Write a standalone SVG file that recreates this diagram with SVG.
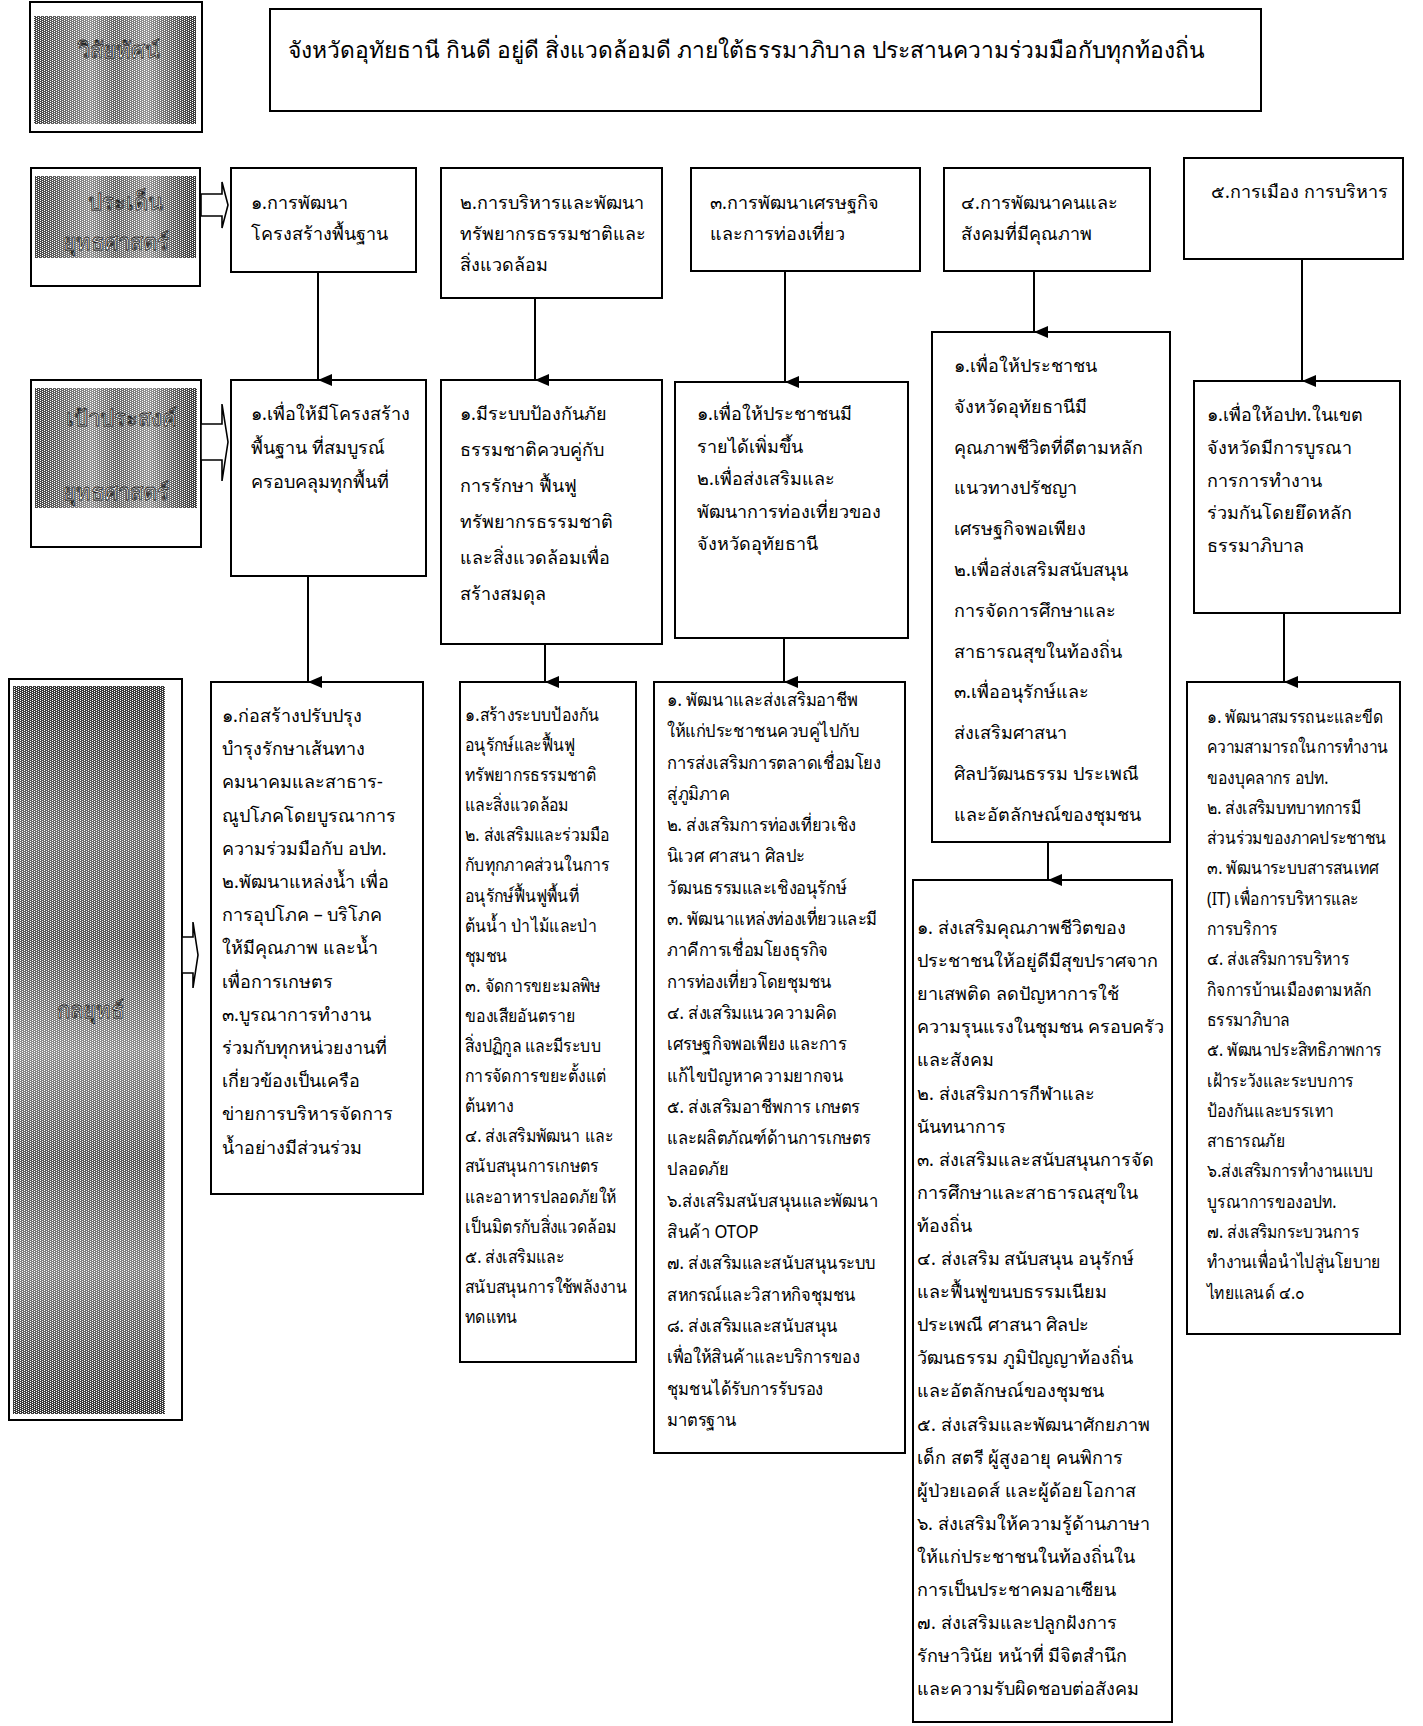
<svg xmlns="http://www.w3.org/2000/svg" width="1423" height="1726" viewBox="0 0 1423 1726">
<style>
.box{fill:#fff;stroke:#000;stroke-width:2}
.t{font-family:'Noto Sans','DejaVu Sans',sans-serif;font-size:18px;fill:#000}
.big{font-size:22.8px}
.lbl{font-family:'Noto Sans','DejaVu Sans',sans-serif;font-size:22px;fill:#fff;stroke:#222;stroke-width:0.8;text-anchor:middle}
.ln{stroke:#000;stroke-width:2;fill:none}
.br{fill:#fff;stroke:#000;stroke-width:1.6}
</style>
<defs>
<marker id="ah" viewBox="0 0 12 14" refX="6" refY="14" markerWidth="12" markerHeight="14" markerUnits="userSpaceOnUse" orient="auto-start-reverse">
<path d="M0,0 L12,0 L6,14 Z" fill="#000"/>
</marker>
<pattern id="dots" width="4" height="2" patternUnits="userSpaceOnUse">
<rect width="4" height="2" fill="#000" fill-opacity="0.35"/>
<rect x="0" y="0" width="1" height="1" fill="#fff"/>
<rect x="2" y="1" width="1" height="1" fill="#fff"/>
</pattern>
<linearGradient id="gh" x1="0" y1="0" x2="1" y2="0">
<stop offset="0" stop-color="#666"/>
<stop offset="0.2" stop-color="#aaa"/>
<stop offset="0.35" stop-color="#ddd"/>
<stop offset="0.5" stop-color="#999"/>
<stop offset="0.7" stop-color="#e4e4e4"/>
<stop offset="0.85" stop-color="#999"/>
<stop offset="1" stop-color="#555"/>
</linearGradient>
<linearGradient id="gv" x1="0" y1="0" x2="0" y2="1">
<stop offset="0" stop-color="#555"/>
<stop offset="0.2" stop-color="#aaa"/>
<stop offset="0.35" stop-color="#888"/>
<stop offset="0.5" stop-color="#ddd"/>
<stop offset="0.65" stop-color="#888"/>
<stop offset="0.8" stop-color="#ccc"/>
<stop offset="1" stop-color="#555"/>
</linearGradient>
</defs>

<!-- Row 1 -->
<g id="label-vision">
<rect class="box" x="30" y="2" width="172" height="130"/>
<rect x="34" y="16" width="162" height="108" fill="url(#gh)"/>
<rect x="34" y="16" width="162" height="108" fill="url(#dots)"/>
<text class="lbl" x="119" y="58">วิสัยทัศน์</text>
</g>
<g id="vision">
<rect class="box" x="270" y="9" width="991" height="102"/>
<text class="t big" x="288" y="58">จังหวัดอุทัยธานี กินดี อยู่ดี สิ่งแวดล้อมดี ภายใต้ธรรมาภิบาล ประสานความร่วมมือกับทุกท้องถิ่น</text>
</g>

<!-- Row 2 -->
<g id="label-issues">
<rect class="box" x="31" y="168" width="169" height="118"/>
<rect x="35" y="176" width="161" height="82" fill="url(#gh)"/>
<rect x="35" y="176" width="161" height="82" fill="url(#dots)"/>
<text class="lbl" x="125" y="210">ประเด็น</text>
<text class="lbl" x="116" y="250">ยุทธศาสตร์</text>
</g>
<g id="issue-1">
<rect class="box" x="231" y="168" width="185" height="104"/>
<text class="t" x="251" y="209">๑.การพัฒนา<tspan x="251" dy="31">โครงสร้างพื้นฐาน</tspan></text>
</g>
<g id="issue-2">
<rect class="box" x="441" y="168" width="221" height="130"/>
<text class="t" x="460" y="209">๒.การบริหารและพัฒนา<tspan x="460" dy="31">ทรัพยากรธรรมชาติและ</tspan><tspan x="460" dy="31">สิ่งแวดล้อม</tspan></text>
</g>
<g id="issue-3">
<rect class="box" x="691" y="168" width="229" height="103"/>
<text class="t" x="710" y="209">๓.การพัฒนาเศรษฐกิจ<tspan x="710" dy="31">และการท่องเที่ยว</tspan></text>
</g>
<g id="issue-4">
<rect class="box" x="944" y="168" width="206" height="103"/>
<text class="t" x="961" y="209">๔.การพัฒนาคนและ<tspan x="961" dy="31">สังคมที่มีคุณภาพ</tspan></text>
</g>
<g id="issue-5">
<rect class="box" x="1184" y="158" width="219" height="101"/>
<text class="t" x="1211" y="198">๕.การเมือง การบริหาร</text>
</g>

<!-- Row 3 -->
<g id="label-goals">
<rect class="box" x="31" y="380" width="170" height="167"/>
<rect x="35" y="388" width="162" height="120" fill="url(#gh)"/>
<rect x="35" y="388" width="162" height="120" fill="url(#dots)"/>
<text class="lbl" x="121" y="426">เป้าประสงค์</text>
<text class="lbl" x="116" y="500">ยุทธศาสตร์</text>
</g>
<g id="goal-1">
<rect class="box" x="231" y="380" width="195" height="196"/>
<text class="t" x="251" y="420">๑.เพื่อให้มีโครงสร้าง<tspan x="251" dy="34">พื้นฐาน ที่สมบูรณ์</tspan><tspan x="251" dy="34">ครอบคลุมทุกพื้นที่</tspan></text>
</g>
<g id="goal-2">
<rect class="box" x="441" y="380" width="221" height="264"/>
<text class="t" x="460" y="420">๑.มีระบบป้องกันภัย<tspan x="460" dy="36">ธรรมชาติควบคู่กับ</tspan><tspan x="460" dy="36">การรักษา ฟื้นฟู</tspan><tspan x="460" dy="36">ทรัพยากรธรรมชาติ</tspan><tspan x="460" dy="36">และสิ่งแวดล้อมเพื่อ</tspan><tspan x="460" dy="36">สร้างสมดุล</tspan></text>
</g>
<g id="goal-3">
<rect class="box" x="675" y="382" width="233" height="256"/>
<text class="t" x="697" y="420">๑.เพื่อให้ประชาชนมี<tspan x="697" dy="32.5">รายได้เพิ่มขึ้น</tspan><tspan x="697" dy="32.5">๒.เพื่อส่งเสริมและ</tspan><tspan x="697" dy="32.5">พัฒนาการท่องเที่ยวของ</tspan><tspan x="697" dy="32.5">จังหวัดอุทัยธานี</tspan></text>
</g>
<g id="goal-4">
<rect class="box" x="932" y="332" width="238" height="510"/>
<text class="t" x="954" y="372">๑.เพื่อให้ประชาชน<tspan x="954" dy="40.8">จังหวัดอุทัยธานีมี</tspan><tspan x="954" dy="40.8">คุณภาพชีวิตที่ดีตามหลัก</tspan><tspan x="954" dy="40.8">แนวทางปรัชญา</tspan><tspan x="954" dy="40.8">เศรษฐกิจพอเพียง</tspan><tspan x="954" dy="40.8">๒.เพื่อส่งเสริมสนับสนุน</tspan><tspan x="954" dy="40.8">การจัดการศึกษาและ</tspan><tspan x="954" dy="40.8">สาธารณสุขในท้องถิ่น</tspan><tspan x="954" dy="40.8">๓.เพื่ออนุรักษ์และ</tspan><tspan x="954" dy="40.8">ส่งเสริมศาสนา</tspan><tspan x="954" dy="40.8">ศิลปวัฒนธรรม ประเพณี</tspan><tspan x="954" dy="40.8">และอัตลักษณ์ของชุมชน</tspan></text>
</g>
<g id="goal-5">
<rect class="box" x="1194" y="381" width="206" height="232"/>
<text class="t" x="1207" y="421">๑.เพื่อให้อปท.ในเขต<tspan x="1207" dy="32.8">จังหวัดมีการบูรณา</tspan><tspan x="1207" dy="32.8">การการทำงาน</tspan><tspan x="1207" dy="32.8">ร่วมกันโดยยึดหลัก</tspan><tspan x="1207" dy="32.8">ธรรมาภิบาล</tspan></text>
</g>

<!-- Row 4 -->
<g id="label-strategies">
<rect class="box" x="9" y="679" width="173" height="741"/>
<rect x="13" y="686" width="152" height="728" fill="url(#gv)"/>
<rect x="13" y="686" width="152" height="728" fill="url(#dots)"/>
<text class="lbl" x="90" y="1018">กลยุทธ์</text>
</g>
<g id="strategy-1">
<rect class="box" x="211" y="682" width="212" height="512"/>
<text class="t" x="222" y="722">๑.ก่อสร้างปรับปรุง<tspan x="222" dy="33.2">บำรุงรักษาเส้นทาง</tspan><tspan x="222" dy="33.2">คมนาคมและสาธาร-</tspan><tspan x="222" dy="33.2">ณูปโภคโดยบูรณาการ</tspan><tspan x="222" dy="33.2">ความร่วมมือกับ อปท.</tspan><tspan x="222" dy="33.2">๒.พัฒนาแหล่งน้ำ เพื่อ</tspan><tspan x="222" dy="33.2">การอุปโภค – บริโภค</tspan><tspan x="222" dy="33.2">ให้มีคุณภาพ และน้ำ</tspan><tspan x="222" dy="33.2">เพื่อการเกษตร</tspan><tspan x="222" dy="33.2">๓.บูรณาการทำงาน</tspan><tspan x="222" dy="33.2">ร่วมกับทุกหน่วยงานที่</tspan><tspan x="222" dy="33.2">เกี่ยวข้องเป็นเครือ</tspan><tspan x="222" dy="33.2">ข่ายการบริหารจัดการ</tspan><tspan x="222" dy="33.2">น้ำอย่างมีส่วนร่วม</tspan></text>
</g>
<g id="strategy-2">
<rect class="box" x="460" y="682" width="176" height="680"/>
<text class="t" x="465" y="721" transform="matrix(0.88,0,0,1,55.8,0)">๑.สร้างระบบป้องกัน<tspan x="465" dy="30.1">อนุรักษ์และฟื้นฟู</tspan><tspan x="465" dy="30.1">ทรัพยากรธรรมชาติ</tspan><tspan x="465" dy="30.1">และสิ่งแวดล้อม</tspan><tspan x="465" dy="30.1">๒. ส่งเสริมและร่วมมือ</tspan><tspan x="465" dy="30.1">กับทุกภาคส่วนในการ</tspan><tspan x="465" dy="30.1">อนุรักษ์ฟื้นฟูพื้นที่</tspan><tspan x="465" dy="30.1">ต้นน้ำ ป่าไม้และป่า</tspan><tspan x="465" dy="30.1">ชุมชน</tspan><tspan x="465" dy="30.1">๓. จัดการขยะมลพิษ</tspan><tspan x="465" dy="30.1">ของเสียอันตราย</tspan><tspan x="465" dy="30.1">สิ่งปฏิกูล และมีระบบ</tspan><tspan x="465" dy="30.1">การจัดการขยะตั้งแต่</tspan><tspan x="465" dy="30.1">ต้นทาง</tspan><tspan x="465" dy="30.1">๔. ส่งเสริมพัฒนา และ</tspan><tspan x="465" dy="30.1">สนับสนุนการเกษตร</tspan><tspan x="465" dy="30.1">และอาหารปลอดภัยให้</tspan><tspan x="465" dy="30.1">เป็นมิตรกับสิ่งแวดล้อม</tspan><tspan x="465" dy="30.1">๕. ส่งเสริมและ</tspan><tspan x="465" dy="30.1">สนับสนุนการใช้พลังงาน</tspan><tspan x="465" dy="30.1">ทดแทน</tspan></text>
</g>
<g id="strategy-3">
<rect class="box" x="654" y="682" width="251" height="771"/>
<text class="t" x="667" y="706" transform="matrix(0.92,0,0,1,53.36,0)">๑. พัฒนาและส่งเสริมอาชีพ<tspan x="667" dy="31.3">ให้แก่ประชาชนควบคู่ไปกับ</tspan><tspan x="667" dy="31.3">การส่งเสริมการตลาดเชื่อมโยง</tspan><tspan x="667" dy="31.3">สู่ภูมิภาค</tspan><tspan x="667" dy="31.3">๒. ส่งเสริมการท่องเที่ยวเชิง</tspan><tspan x="667" dy="31.3">นิเวศ ศาสนา ศิลปะ</tspan><tspan x="667" dy="31.3">วัฒนธรรมและเชิงอนุรักษ์</tspan><tspan x="667" dy="31.3">๓. พัฒนาแหล่งท่องเที่ยวและมี</tspan><tspan x="667" dy="31.3">ภาคีการเชื่อมโยงธุรกิจ</tspan><tspan x="667" dy="31.3">การท่องเที่ยวโดยชุมชน</tspan><tspan x="667" dy="31.3">๔. ส่งเสริมแนวความคิด</tspan><tspan x="667" dy="31.3">เศรษฐกิจพอเพียง และการ</tspan><tspan x="667" dy="31.3">แก้ไขปัญหาความยากจน</tspan><tspan x="667" dy="31.3">๕. ส่งเสริมอาชีพการ เกษตร</tspan><tspan x="667" dy="31.3">และผลิตภัณฑ์ด้านการเกษตร</tspan><tspan x="667" dy="31.3">ปลอดภัย</tspan><tspan x="667" dy="31.3">๖.ส่งเสริมสนับสนุนและพัฒนา</tspan><tspan x="667" dy="31.3">สินค้า OTOP</tspan><tspan x="667" dy="31.3">๗. ส่งเสริมและสนับสนุนระบบ</tspan><tspan x="667" dy="31.3">สหกรณ์และวิสาหกิจชุมชน</tspan><tspan x="667" dy="31.3">๘. ส่งเสริมและสนับสนุน</tspan><tspan x="667" dy="31.3">เพื่อให้สินค้าและบริการของ</tspan><tspan x="667" dy="31.3">ชุมชนได้รับการรับรอง</tspan><tspan x="667" dy="31.3">มาตรฐาน</tspan></text>
</g>
<g id="strategy-4">
<rect class="box" x="913" y="880" width="259" height="842"/>
<text class="t" x="917" y="934">๑. ส่งเสริมคุณภาพชีวิตของ<tspan x="917" dy="33.1">ประชาชนให้อยู่ดีมีสุขปราศจาก</tspan><tspan x="917" dy="33.1">ยาเสพติด ลดปัญหาการใช้</tspan><tspan x="917" dy="33.1">ความรุนแรงในชุมชน ครอบครัว</tspan><tspan x="917" dy="33.1">และสังคม</tspan><tspan x="917" dy="33.1">๒. ส่งเสริมการกีฬาและ</tspan><tspan x="917" dy="33.1">นันทนาการ</tspan><tspan x="917" dy="33.1">๓. ส่งเสริมและสนับสนุนการจัด</tspan><tspan x="917" dy="33.1">การศึกษาและสาธารณสุขใน</tspan><tspan x="917" dy="33.1">ท้องถิ่น</tspan><tspan x="917" dy="33.1">๔. ส่งเสริม สนับสนุน อนุรักษ์</tspan><tspan x="917" dy="33.1">และฟื้นฟูขนบธรรมเนียม</tspan><tspan x="917" dy="33.1">ประเพณี ศาสนา ศิลปะ</tspan><tspan x="917" dy="33.1">วัฒนธรรม ภูมิปัญญาท้องถิ่น</tspan><tspan x="917" dy="33.1">และอัตลักษณ์ของชุมชน</tspan><tspan x="917" dy="33.1">๕. ส่งเสริมและพัฒนาศักยภาพ</tspan><tspan x="917" dy="33.1">เด็ก สตรี  ผู้สูงอายุ คนพิการ</tspan><tspan x="917" dy="33.1">ผู้ป่วยเอดส์ และผู้ด้อยโอกาส</tspan><tspan x="917" dy="33.1">๖. ส่งเสริมให้ความรู้ด้านภาษา</tspan><tspan x="917" dy="33.1">ให้แก่ประชาชนในท้องถิ่นใน</tspan><tspan x="917" dy="33.1">การเป็นประชาคมอาเซียน</tspan><tspan x="917" dy="33.1">๗. ส่งเสริมและปลูกฝังการ</tspan><tspan x="917" dy="33.1">รักษาวินัย หน้าที่ มีจิตสำนึก</tspan><tspan x="917" dy="33.1">และความรับผิดชอบต่อสังคม</tspan></text>
</g>
<g id="strategy-5">
<rect class="box" x="1187" y="682" width="213" height="652"/>
<text class="t" x="1207" y="723" transform="matrix(0.87,0,0,1,156.91,0)">๑. พัฒนาสมรรถนะและขีด<tspan x="1207" dy="30.3">ความสามารถในการทำงาน</tspan><tspan x="1207" dy="30.3">ของบุคลากร อปท.</tspan><tspan x="1207" dy="30.3">๒. ส่งเสริมบทบาทการมี</tspan><tspan x="1207" dy="30.3">ส่วนร่วมของภาคประชาชน</tspan><tspan x="1207" dy="30.3">๓. พัฒนาระบบสารสนเทศ</tspan><tspan x="1207" dy="30.3">(IT) เพื่อการบริหารและ</tspan><tspan x="1207" dy="30.3">การบริการ</tspan><tspan x="1207" dy="30.3">๔. ส่งเสริมการบริหาร</tspan><tspan x="1207" dy="30.3">กิจการบ้านเมืองตามหลัก</tspan><tspan x="1207" dy="30.3">ธรรมาภิบาล</tspan><tspan x="1207" dy="30.3">๕. พัฒนาประสิทธิภาพการ</tspan><tspan x="1207" dy="30.3">เฝ้าระวังและระบบการ</tspan><tspan x="1207" dy="30.3">ป้องกันและบรรเทา</tspan><tspan x="1207" dy="30.3">สาธารณภัย</tspan><tspan x="1207" dy="30.3">๖.ส่งเสริมการทำงานแบบ</tspan><tspan x="1207" dy="30.3">บูรณาการของอปท.</tspan><tspan x="1207" dy="30.3">๗. ส่งเสริมกระบวนการ</tspan><tspan x="1207" dy="30.3">ทำงานเพื่อนำไปสู่นโยบาย</tspan><tspan x="1207" dy="30.3">ไทยแลนด์ ๔.๐</tspan></text>
</g>

<g id="connectors">
<path class="br" d="M201,194 H222 V182 L228,205 L222,228 V216 H201 Z"/>
<path class="br" d="M201,424 H222 V404 L228,442 L222,481 V460 H201 Z"/>
<path class="br" d="M182,937 H193 V922 L198,955 L193,988 V973 H182 Z"/>
<line class="ln" x1="318" y1="272" x2="318" y2="380" marker-end="url(#ah)"/>
<line class="ln" x1="535" y1="298" x2="535" y2="380" marker-end="url(#ah)"/>
<line class="ln" x1="785" y1="271" x2="785" y2="382" marker-end="url(#ah)"/>
<line class="ln" x1="1034" y1="271" x2="1034" y2="332" marker-end="url(#ah)"/>
<line class="ln" x1="1302" y1="259" x2="1302" y2="381" marker-end="url(#ah)"/>
<line class="ln" x1="308" y1="576" x2="308" y2="682" marker-end="url(#ah)"/>
<line class="ln" x1="545" y1="644" x2="545" y2="682" marker-end="url(#ah)"/>
<line class="ln" x1="784" y1="638" x2="784" y2="682" marker-end="url(#ah)"/>
<line class="ln" x1="1048" y1="842" x2="1048" y2="880" marker-end="url(#ah)"/>
<line class="ln" x1="1284" y1="613" x2="1284" y2="682" marker-end="url(#ah)"/>
</g>
</svg>
